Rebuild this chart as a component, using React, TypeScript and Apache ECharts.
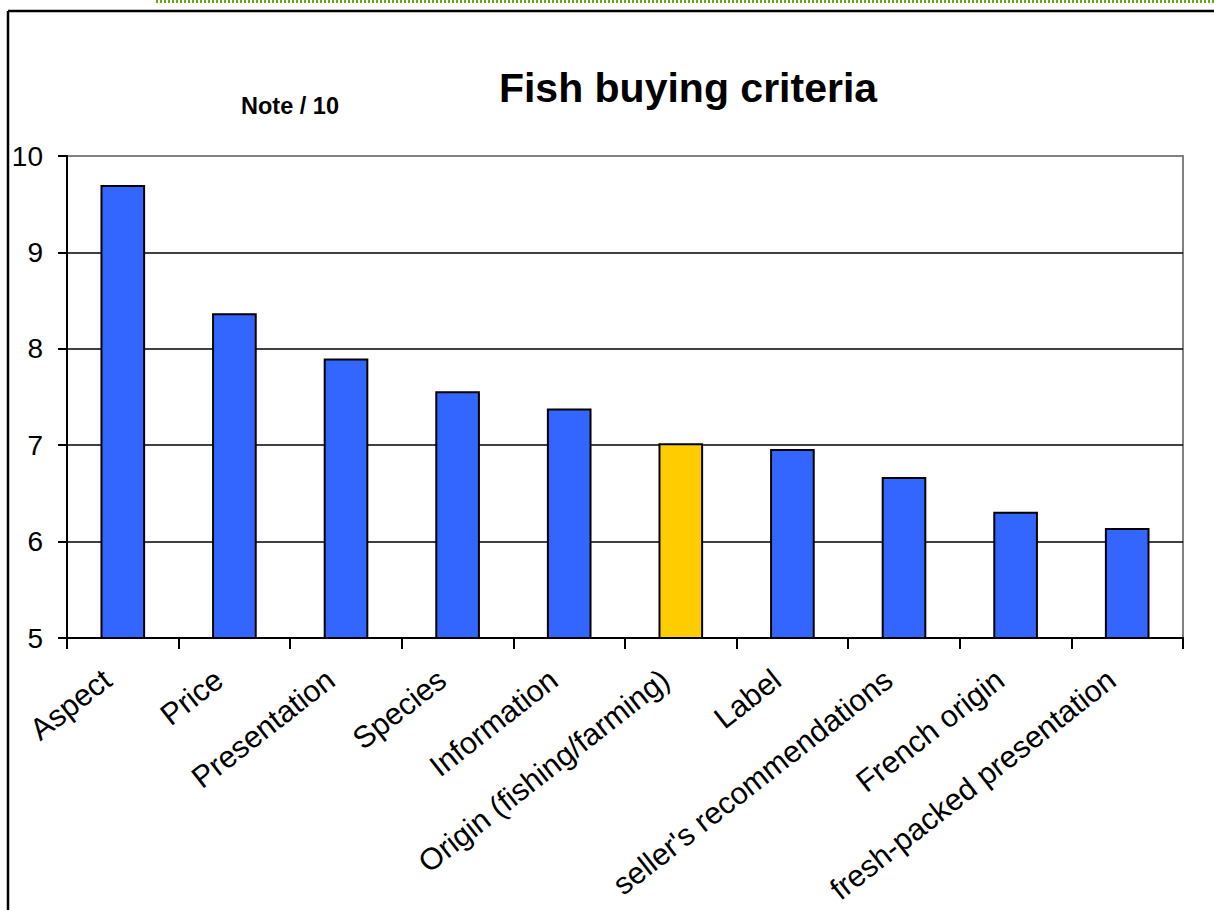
import React, { useEffect, useRef } from "react";
import * as echarts from "echarts";

const categories = [
  "Aspect",
  "Price",
  "Presentation",
  "Species",
  "Information",
  "Origin (fishing/farming)",
  "Label",
  "seller's recommendations",
  "French origin",
  "fresh-packed presentation",
];
const values = [9.7, 8.37, 7.9, 7.56, 7.38, 7.02, 6.96, 6.67, 6.31, 6.14];
const barColors = ["#3366FF", "#3366FF", "#3366FF", "#3366FF", "#3366FF", "#FFCC00", "#3366FF", "#3366FF", "#3366FF", "#3366FF"];
const yTicks = [5, 6, 7, 8, 9, 10];
const titleText = "Fish buying criteria";
const unitText = "Note / 10";

const FONT = "'Liberation Sans', Arial, sans-serif";

export default function App() {
  const ref = useRef<HTMLDivElement>(null);
  useEffect(() => {
    document.body.style.margin = "0";
    const chart = echarts.init(ref.current!, null, { renderer: "svg" });
    const gridLeft = 67;
    const gridTop = 156;
    const gridW = 1116;
    const gridH = 482;
    chart.setOption({
      animation: false,
      backgroundColor: "#ffffff",
      title: [
        {
          text: titleText,
          left: 683,
          top: 62,
          textAlign: "center",
          textStyle: { fontFamily: FONT, fontSize: 41, fontWeight: "bold", color: "#000" },
        },
        {
          text: unitText,
          left: 285,
          top: 89,
          textAlign: "center",
          textStyle: { fontFamily: FONT, fontSize: 23.5, fontWeight: "bold", color: "#000" },
        },
      ],
      grid: {
        left: gridLeft,
        top: gridTop,
        width: gridW,
        height: gridH,
        outerBoundsMode: "none",
        containLabel: false,
        show: true,
        borderColor: "#808080",
        borderWidth: 2,
        backgroundColor: "transparent",
      },
      xAxis: {
        type: "category",
        data: categories,
        axisLine: { lineStyle: { color: "#000", width: 2 } },
        axisTick: { show: true, length: 11, lineStyle: { color: "#000", width: 2 } },
        axisLabel: {
          interval: 0,
          rotate: 38,
          margin: 25,
          fontFamily: FONT,
          fontSize: 30.5,
          color: "#000",
          padding: [0, 20, 0, 0],
        },
      },
      yAxis: {
        type: "value",
        min: yTicks[0],
        max: yTicks[yTicks.length - 1],
        interval: 1,
        axisLine: { show: true, lineStyle: { color: "#000", width: 2 } },
        axisTick: { show: true, length: 9, lineStyle: { color: "#000", width: 2 } },
        axisLabel: { margin: 24, fontFamily: FONT, fontSize: 28, color: "#000" },
        splitLine: {
          show: true,
          lineStyle: { color: ["#000", "#000", "#000", "#000", "#000", "#808080"], width: 1.5 },
        },
      },
      series: [
        {
          type: "bar",
          data: values.map((v, i) => ({ value: v, itemStyle: { color: barColors[i] } })),
          barWidth: "40%",
          itemStyle: { borderColor: "#000", borderWidth: 2 },
        },
      ],
      graphic: [
        {
          type: "line",
          shape: { x1: 156, y1: 1.5, x2: 1214, y2: 1.5 },
          style: { stroke: "#66AA11", lineWidth: 3, lineDash: [2, 2] },
        },
        {
          type: "line",
          shape: { x1: 8, y1: 11, x2: 1214, y2: 11 },
          style: { stroke: "#000", lineWidth: 2.5 },
        },
        {
          type: "line",
          shape: { x1: 8, y1: 11, x2: 8, y2: 910 },
          style: { stroke: "#000", lineWidth: 2.5 },
        },
      ],
    });
    return () => chart.dispose();
  }, []);
  return (
    <div
      ref={ref}
      style={{ position: "absolute", left: 0, top: 0, width: 1214, height: 910 }}
    />
  );
}
